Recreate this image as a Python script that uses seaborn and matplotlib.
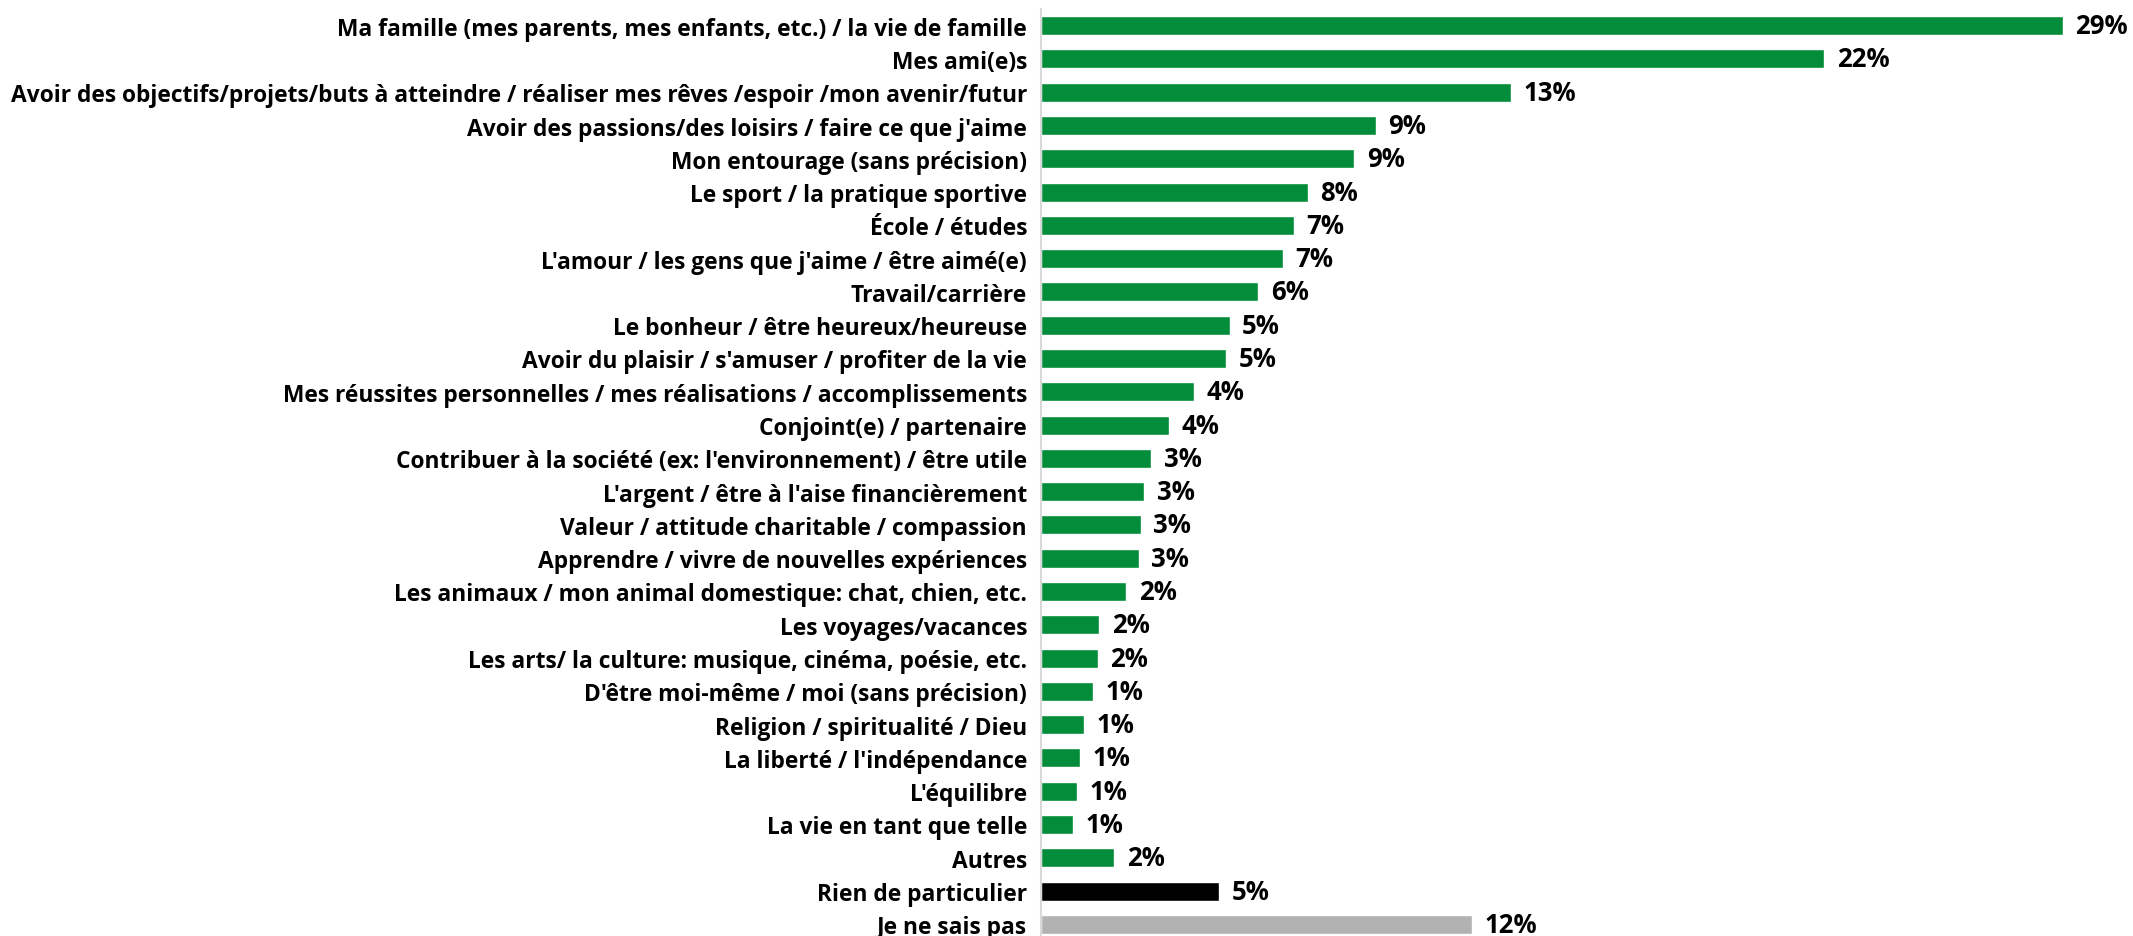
import matplotlib
matplotlib.use("Agg")
import matplotlib.pyplot as plt
import seaborn as sns
import pandas as pd

categories = [
    "Ma famille (mes parents, mes enfants, etc.) / la vie de famille",
    "Mes ami(e)s",
    "Avoir des objectifs/projets/buts à atteindre / réaliser mes rêves /espoir /mon avenir/futur",
    "Avoir des passions/des loisirs / faire ce que j'aime",
    "Mon entourage (sans précision)",
    "Le sport / la pratique sportive",
    "École / études",
    "L'amour / les gens que j'aime / être aimé(e)",
    "Travail/carrière",
    "Le bonheur / être heureux/heureuse",
    "Avoir du plaisir / s'amuser / profiter de la vie",
    "Mes réussites personnelles / mes réalisations / accomplissements",
    "Conjoint(e) / partenaire",
    "Contribuer à la société (ex: l'environnement) / être utile",
    "L'argent / être à l'aise financièrement",
    "Valeur / attitude charitable / compassion",
    "Apprendre / vivre de nouvelles expériences",
    "Les animaux / mon animal domestique: chat, chien, etc.",
    "Les voyages/vacances",
    "Les arts/ la culture: musique, cinéma, poésie, etc.",
    "D'être moi-même / moi (sans précision)",
    "Religion / spiritualité / Dieu",
    "La liberté / l'indépendance",
    "L'équilibre",
    "La vie en tant que telle",
    "Autres",
    "Rien de particulier",
    "Je ne sais pas",
]
values = [28.7, 22.0, 13.2, 9.4, 8.8, 7.5, 7.1, 6.8, 6.1, 5.3, 5.2, 4.3, 3.6, 3.1,
          2.9, 2.8, 2.75, 2.4, 1.64, 1.6, 1.45, 1.2, 1.1, 1.0, 0.9, 2.06, 5.0, 12.1]
labels = ["29%", "22%", "13%", "9%", "9%", "8%", "7%", "7%", "6%", "5%", "5%", "4%",
          "4%", "3%", "3%", "3%", "3%", "2%", "2%", "2%", "1%", "1%", "1%", "1%",
          "1%", "2%", "5%", "12%"]

GREEN = "#038C39"
colors = [GREEN] * 26 + ["#000000", "#B2B2B2"]

df = pd.DataFrame({"cat": categories, "val": values})

sns.set_theme(style="white")
plt.rcParams["font.family"] = ["Open Sans", "DejaVu Sans"]

W, H = 2133, 937
fig = plt.figure(figsize=(W / 100, H / 100), dpi=100)
ax = fig.add_axes([1041 / W, -5 / H, 1068 / W, 932 / H])

sns.barplot(data=df, x="val", y="cat", hue="cat", palette=colors, legend=False,
            width=0.57, ax=ax, saturation=1, orient="h")

ax.set_xlim(0, 30)
ax.set_ylim(len(categories) - 0.5, -0.5)
ax.set_xlabel("")
ax.set_ylabel("")
ax.set_xticks([])
for s in ["top", "right", "bottom"]:
    ax.spines[s].set_visible(False)
ax.spines["left"].set_color("#D9D9D9")
ax.spines["left"].set_linewidth(1.5)
ax.tick_params(axis="y", length=0, pad=10)
for t in ax.get_yticklabels():
    t.set_fontsize(16.4)
    t.set_fontweight("bold")
    t.set_color("#000000")

for i, (v, lab) in enumerate(zip(values, labels)):
    ax.annotate(lab, xy=(v, i), xytext=(9, 0), textcoords="offset points",
                va="center", ha="left", fontsize=18.5, fontweight="bold", color="#000000",
                annotation_clip=False)

fig.savefig("out.png", dpi=100)
